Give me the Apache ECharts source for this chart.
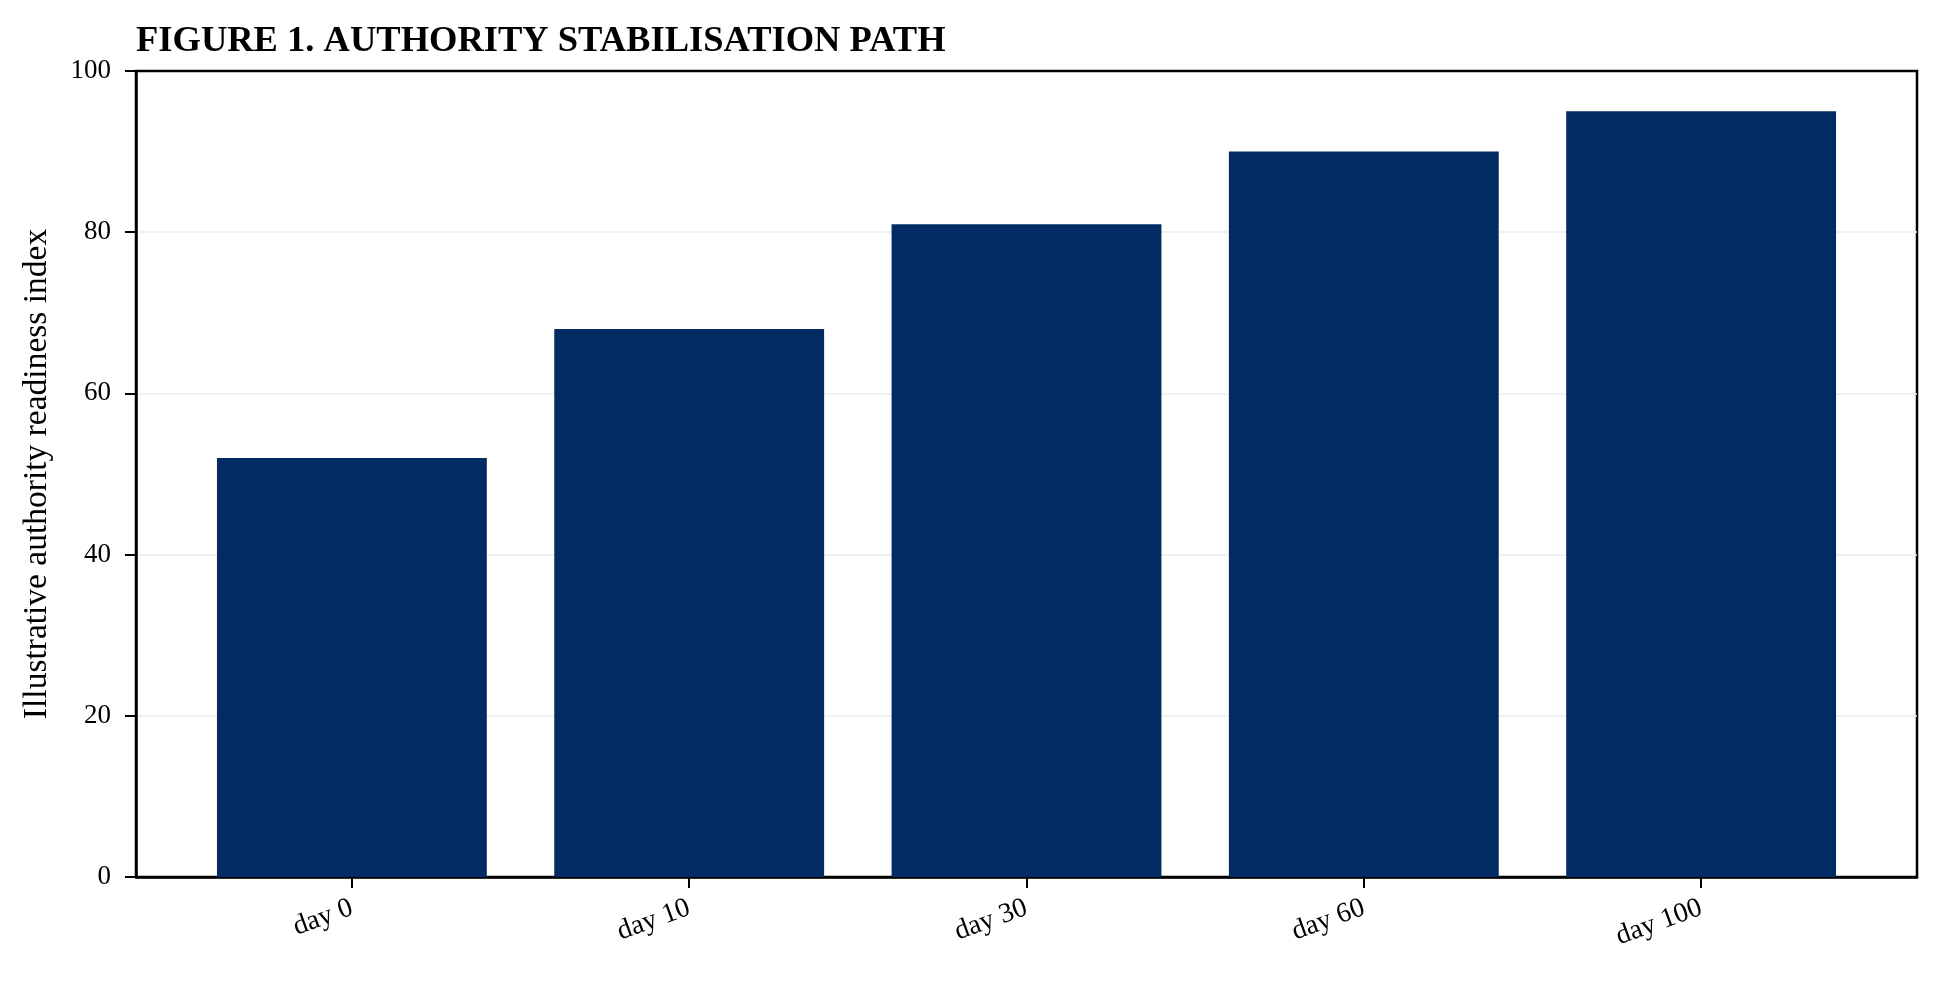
<!DOCTYPE html>
<html lang="en">
  <head>
    <meta charset="UTF-8" />
    <title>Figure 1</title>
    <script src="https://cdn.jsdelivr.net/npm/echarts@6/dist/echarts.min.js"></script>
    <style>
      html, body { margin: 0; padding: 0; background: #fff; }
      #chart { width: 1939px; height: 983px; }
    </style>
  </head>
  <body>
    <div id="chart"></div>
    <script>
      // 数据
      var categories = ["day 0", "day 10", "day 30", "day 60", "day 100"];
      var readiness = [52, 68, 81, 90, 95];
      var yTicks = [0, 20, 40, 60, 80, 100];

      var positions = categories.map(function (c, i) { return i; });
      var barData = readiness.map(function (v, i) { return [i, v]; });
      var font = "Liberation Serif";

      var chart = echarts.init(document.getElementById("chart"));
      var option = {
        backgroundColor: "#fff",
        animation: false,
        title: {
          text: "FIGURE 1. AUTHORITY STABILISATION PATH",
          left: 131,
          top: 18,
          textStyle: { fontFamily: font, fontWeight: "bold", fontSize: 36.5, color: "#000" },
        },
        grid: {
          left: 136,
          right: 22,
          top: 71,
          bottom: 106,
          show: true,
          borderColor: "#000",
          borderWidth: 2.5,
        },
        xAxis: {
          type: "value",
          min: -0.64,
          max: 4.64,
          splitLine: { show: false },
          axisLine: { show: true, onZero: false, lineStyle: { color: "#000", width: 2.5 } },
          axisTick: {
            show: true,
            inside: false,
            customValues: positions,
            length: 11,
            lineStyle: { color: "#000", width: 2 },
          },
          axisLabel: {
            customValues: positions,
            rotate: 20,
            margin: 30,
            fontFamily: font,
            fontSize: 28,
            color: "#000",
            formatter: function (v) { return categories[Math.round(v)]; },
          },
        },
        yAxis: {
          type: "value",
          min: yTicks[0],
          max: yTicks[yTicks.length - 1],
          interval: 20,
          name: "Illustrative authority readiness index",
          nameLocation: "middle",
          nameGap: 82,
          nameTextStyle: { fontFamily: font, fontSize: 33.5, color: "#000" },
          axisLine: { show: true, onZero: false, lineStyle: { color: "#000", width: 2.5 } },
          axisTick: { show: true, inside: false, length: 11, lineStyle: { color: "#000", width: 2 } },
          axisLabel: { fontFamily: font, fontSize: 27, color: "#000", margin: 25 },
          splitLine: {
            show: true,
            showMinLine: false,
            showMaxLine: false,
            lineStyle: { color: "#ebebeb", width: 1.5 },
          },
        },
        series: [
          {
            type: "bar",
            data: barData,
            barWidth: "80%",
            itemStyle: { color: "#022b63" },
          },
        ],
      };
      chart.setOption(option);
    </script>
  </body>
</html>
